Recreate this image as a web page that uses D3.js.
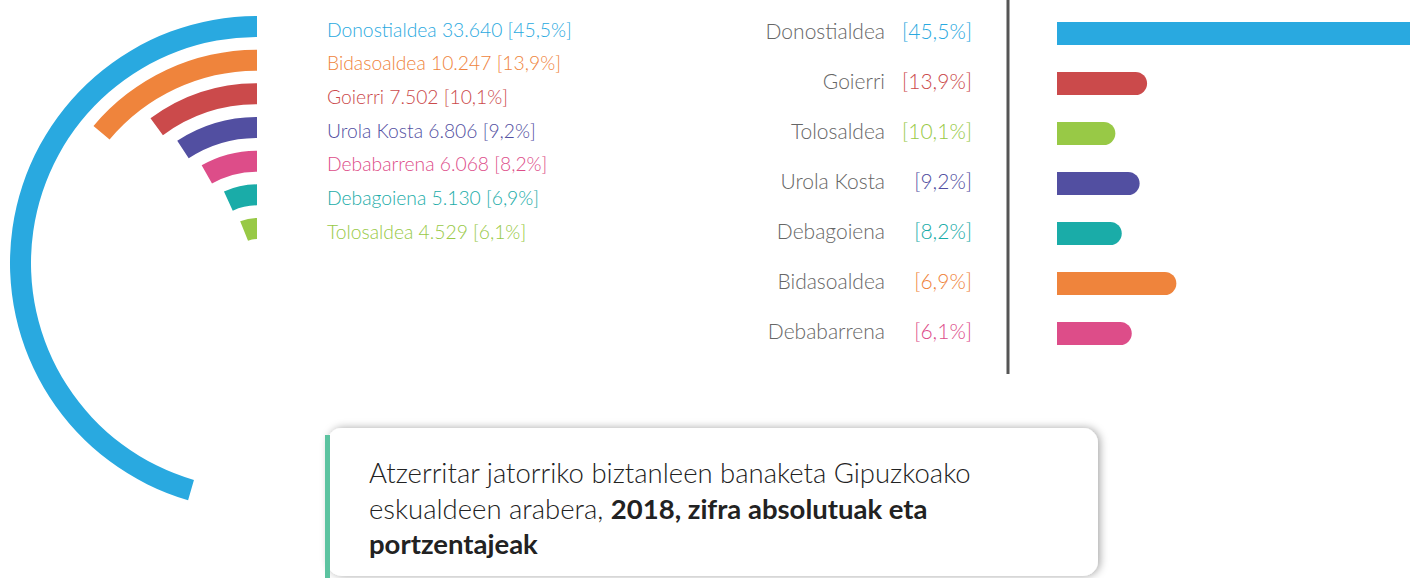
<!DOCTYPE html>
<html>
<head>
<meta charset="utf-8">
<script src="https://cdn.jsdelivr.net/npm/d3@7"></script>
<style>
  body { margin: 0; background: #fff; }
  svg { display: block; font-family: Lato, "Open Sans", sans-serif; }
</style>
</head>
<body>
<svg id="chart" width="1410" height="578"></svg>
<script>
// regions, absolute counts and shares (left: arcs + legend)
const regions = ['Donostialdea', 'Bidasoaldea', 'Goierri', 'Urola Kosta', 'Debabarrena', 'Debagoiena', 'Tolosaldea'];
const counts = [33640, 10247, 7502, 6806, 6068, 5130, 4529];
const shares = [45.5, 13.9, 10.1, 9.2, 8.2, 6.9, 6.1];
const colors = ['#29a9e0', '#ef843c', '#cb4a4b', '#524fa1', '#dd4d89', '#1aaca8', '#98c946'];

// right panel: names in their row order and the share printed next to each
const rankNames = ['Donostialdea', 'Goierri', 'Tolosaldea', 'Urola Kosta', 'Debagoiena', 'Bidasoaldea', 'Debabarrena'];
const rankShares = [45.5, 13.9, 10.1, 9.2, 8.2, 6.9, 6.1];

const captionLines = [
  [{ t: 'Atzerritar jatorriko biztanleen banaketa Gipuzkoako', b: false }],
  [{ t: 'eskualdeen arabera, ', b: false }, { t: '2018, zifra absolutuak eta', b: true }],
  [{ t: 'portzentajeak', b: true }]
];

const eu = d3.formatLocale({ decimal: ',', thousands: '.', grouping: [3], currency: ['', '€'] });
const fmtN = eu.format(',d');
const fmtP = eu.format('.1f');

const colorOf = d3.scaleOrdinal().domain(regions).range(colors);
const countOf = name => counts[regions.indexOf(name)];

const svg = d3.select('#chart');

// ---- concentric arcs ----
const cx = 257, cy = 263, thick = 21;
const rOuter = d3.scaleLinear().domain([0, regions.length - 1]).range([247, 45]);
const angle = d3.scaleLinear().domain([0, 100]).range([0, 2 * Math.PI]);

const arcGen = d3.arc()
  .innerRadius(d => rOuter(d.i) - thick)
  .outerRadius(d => rOuter(d.i))
  .startAngle(0)
  .endAngle(d => -angle(d.share));

const arcData = regions.map((r, i) => ({ name: r, i: i, share: shares[i], count: counts[i] }));

const gArcs = svg.append('g').attr('transform', `translate(${cx},${cy})`);
gArcs.selectAll('path')
  .data(arcData)
  .enter()
  .append('path')
    .attr('d', arcGen)
    .attr('fill', d => colorOf(d.name));

// legend next to the arcs, one line per ring
svg.append('g')
  .selectAll('text')
  .data(arcData)
  .enter()
  .append('text')
    .attr('x', 327)
    .attr('y', d => cy - rOuter(d.i) + thick / 2 + 5.5)
    .attr('dominant-baseline', 'middle')
    .style('font-size', '19.3px')
    .style('font-weight', 300)
    .attr('fill', d => colorOf(d.name))
    .text(d => `${d.name} ${fmtN(d.count)} [${fmtP(d.share)}%]`);

// ---- right panel: labels + bars ----
const rowY = d3.scalePoint().domain(rankNames).range([32, 332]);
const barH = 23;
const x0 = 1057;
const barLen = d3.scaleLinear().domain([0, d3.max(counts)]).range([10, 369]);

const rankData = rankNames.map((n, i) => ({ name: n, share: rankShares[i], count: countOf(n) }));

const rows = svg.append('g')
  .selectAll('g')
  .data(rankData)
  .enter()
  .append('g')
    .attr('transform', d => `translate(0,${rowY(d.name)})`);

rows.append('text')
  .attr('x', 885)
  .attr('y', 2)
  .attr('dominant-baseline', 'middle')
  .attr('text-anchor', 'end')
  .style('font-size', '21px')
  .style('font-weight', 300)
  .attr('fill', '#666')
  .text(d => d.name);

rows.append('text')
  .attr('x', 972)
  .attr('y', 2)
  .attr('dominant-baseline', 'middle')
  .attr('text-anchor', 'end')
  .style('font-size', '21px')
  .style('font-weight', 300)
  .attr('fill', d => colorOf(d.name))
  .text(d => `[${fmtP(d.share)}%]`);

// bar with a rounded right end only
rows.append('path')
  .attr('fill', d => colorOf(d.name))
  .attr('d', d => {
    const w = barLen(d.count), r = barH / 2;
    const y = 1.5 - r;
    return `M${x0},${y} H${x0 + w - r} A${r},${r} 0 0 1 ${x0 + w - r},${y + barH} H${x0} Z`;
  });

// divider
svg.append('line')
  .attr('x1', 1008).attr('x2', 1008)
  .attr('y1', 0).attr('y2', 374)
  .attr('stroke', '#555')
  .attr('stroke-width', 3);

// ---- caption box ----
const defs = svg.append('defs');
const f = defs.append('filter').attr('id', 'shadow')
  .attr('x', '-10%').attr('y', '-20%').attr('width', '120%').attr('height', '150%');
f.append('feDropShadow')
  .attr('dx', 2).attr('dy', 0)
  .attr('stdDeviation', 4)
  .attr('flood-color', '#000')
  .attr('flood-opacity', 0.35);

svg.append('rect')
  .attr('x', 327).attr('y', 428)
  .attr('width', 771).attr('height', 148)
  .attr('rx', 15)
  .attr('fill', '#fff')
  .attr('filter', 'url(#shadow)');

svg.append('rect')
  .attr('x', 325).attr('y', 435)
  .attr('width', 5).attr('height', 143)
  .attr('fill', '#5cc3a0');

const cap = svg.append('text')
  .attr('x', 369)
  .style('font-size', '27.5px')
  .attr('fill', '#222');

captionLines.forEach((line, i) => {
  line.forEach((seg, j) => {
    const ts = cap.append('tspan')
      .style('font-weight', seg.b ? 'bold' : 300)
      .style('white-space', 'pre')
      .text(seg.t);
    if (j === 0) ts.attr('x', 369).attr('y', 483 + i * 35.5);
  });
});
</script>
</body>
</html>
